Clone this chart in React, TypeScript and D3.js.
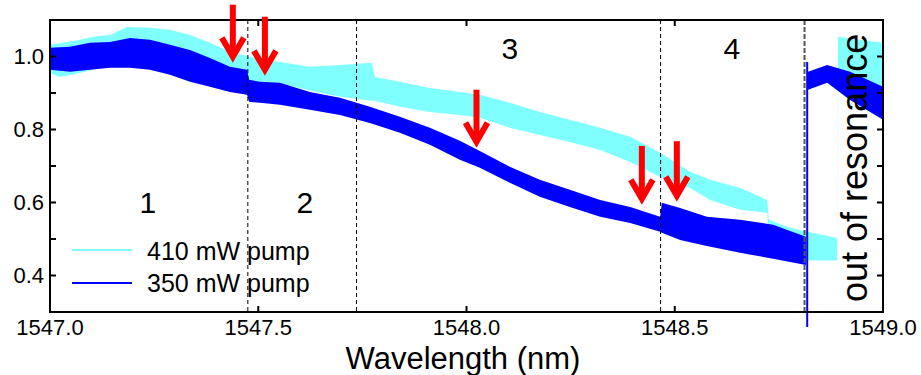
import React from "react";
import * as d3 from "d3";

// ---- data ----
const xTicks = [1547.0, 1547.5, 1548.0, 1548.5, 1549.0];
const yTickLabels = [0.4, 0.6, 0.8, 1.0];
const yTicksAll = [0.4, 0.5, 0.6, 0.7, 0.8, 0.9, 1.0];

// 410 mW pump (cyan) envelope
const cyanWl = [1547.000, 1547.024, 1547.072, 1547.103, 1547.144, 1547.185, 1547.240, 1547.288, 1547.336, 1547.384, 1547.432, 1547.480, 1547.552, 1547.624, 1547.696, 1547.773, 1547.780, 1547.840, 1547.912, 1547.984, 1548.032, 1548.104, 1548.176, 1548.248, 1548.321, 1548.393, 1548.465, 1548.537, 1548.585, 1548.657, 1548.722, 1548.726, 1548.777, 1548.818, 1548.856, 1548.890, 1548.892, 1548.945, 1549.000];
const cyanHi = [1.032, 1.036, 1.046, 1.054, 1.059, 1.081, 1.079, 1.073, 1.059, 1.038, 1.013, 0.999, 0.985, 0.972, 0.977, 0.983, 0.944, 0.931, 0.914, 0.903, 0.895, 0.873, 0.848, 0.827, 0.805, 0.780, 0.736, 0.684, 0.662, 0.640, 0.607, 0.553, 0.531, 0.520, 0.511, 0.503, 1.054, 1.046, 1.038];
const cyanLo = [0.955, 0.944, 0.955, 0.964, 0.977, 0.991, 0.991, 0.977, 0.964, 0.950, 0.936, 0.931, 0.926, 0.907, 0.890, 0.879, 0.879, 0.862, 0.848, 0.840, 0.832, 0.805, 0.785, 0.766, 0.744, 0.711, 0.670, 0.640, 0.607, 0.580, 0.572, 0.506, 0.484, 0.441, 0.441, 0.441, 0.922, 0.903, 0.881];

// 350 mW pump (blue) envelope, in resonance
const blueWl = [1547.000, 1547.048, 1547.096, 1547.144, 1547.192, 1547.240, 1547.288, 1547.336, 1547.384, 1547.432, 1547.473, 1547.478, 1547.504, 1547.552, 1547.624, 1547.696, 1547.768, 1547.840, 1547.912, 1547.984, 1548.032, 1548.104, 1548.176, 1548.248, 1548.321, 1548.393, 1548.465, 1548.469, 1548.513, 1548.577, 1548.657, 1548.736, 1548.815];
const blueHi = [1.024, 1.027, 1.038, 1.040, 1.051, 1.046, 1.032, 1.018, 0.996, 0.972, 0.964, 0.936, 0.931, 0.928, 0.903, 0.887, 0.862, 0.835, 0.805, 0.769, 0.741, 0.698, 0.662, 0.635, 0.607, 0.588, 0.561, 0.599, 0.585, 0.561, 0.553, 0.539, 0.506];
const blueLo = [0.964, 0.958, 0.964, 0.969, 0.969, 0.964, 0.950, 0.931, 0.917, 0.903, 0.895, 0.876, 0.873, 0.868, 0.854, 0.840, 0.818, 0.791, 0.758, 0.717, 0.695, 0.654, 0.616, 0.588, 0.561, 0.544, 0.520, 0.517, 0.497, 0.481, 0.462, 0.446, 0.429];

// 350 mW pump (blue), out of resonance
const blueOutWl = [1548.820, 1548.866, 1548.921, 1549.000];
const blueOutHi = [0.958, 0.977, 0.958, 0.917];
const blueOutLo = [0.909, 0.928, 0.881, 0.827];

// blue drop-out spike at the resonance edge
const blueDropWl = [1548.818];
const blueDropRange = [0.259, 0.985];

// region dividers
const dividerWl = [1547.475, 1547.736, 1548.466];
const resonanceEdgeWl = [1548.814];

// region labels
const regionLabels = ["1", "2", "3", "4"];
const regionWl = [1547.235, 1547.612, 1548.104, 1548.637];
const regionVal = [0.572, 0.572, 0.994, 0.994];

// red arrows: wavelength, top value, tip value
const arrowWl = [1547.439, 1547.516, 1548.024, 1548.421, 1548.505];
const arrowTop = [1.142, 1.109, 0.909, 0.755, 0.768];
const arrowTip = [0.983, 0.947, 0.750, 0.594, 0.602];

const seriesNames = ["410 mW pump", "350 mW pump"];
const seriesColors = ["#80FFFF", "#0000FF"];

const FONT = "'Liberation Sans', Arial, Helvetica, sans-serif";

export default function App() {
  const x = d3.scaleLinear().domain([1547, 1549]).range([50, 883]);
  const y = d3.scaleLinear().domain([0.3, 1.1]).range([312, 20]);

  const band = (wl: number[], hi: number[], lo: number[]) =>
    d3
      .area<number>()
      .x((i) => x(wl[i]))
      .y0((i) => y(lo[i]))
      .y1((i) => y(hi[i]))(d3.range(wl.length)) || "";

  const [x0, x1] = x.range();
  const [yb, yt] = y.range();

  return (
    <svg
      width={921}
      height={375}
      style={{ position: "absolute", left: 0, top: 0, background: "#fff" }}
      fontFamily={FONT}
    >
      <rect x={0} y={0} width={921} height={375} fill="#fff" />
      {/* data */}
      <path d={band(cyanWl, cyanHi, cyanLo)} fill={seriesColors[0]} />
      <path d={band(blueWl, blueHi, blueLo)} fill={seriesColors[1]} />
      <path d={band(blueOutWl, blueOutHi, blueOutLo)} fill={seriesColors[1]} />
      {blueDropWl.map((w, i) => (
        <line
          key={"drop" + i}
          x1={x(w)}
          x2={x(w)}
          y1={y(blueDropRange[0])}
          y2={y(blueDropRange[1])}
          stroke={seriesColors[1]}
          strokeWidth={2}
        />
      ))}

      {/* dividers */}
      {dividerWl.map((w, i) => (
        <line
          key={"div" + i}
          x1={x(w)}
          x2={x(w)}
          y1={yt}
          y2={yb}
          stroke="#000"
          strokeWidth={1}
          strokeDasharray="4,3"
        />
      ))}
      {resonanceEdgeWl.map((w, i) => (
        <line
          key={"edge" + i}
          x1={x(w) - 1}
          x2={x(w) - 1}
          y1={yt}
          y2={yb}
          stroke="#555"
          strokeWidth={2}
          strokeDasharray="5,2"
        />
      ))}

      {/* frame */}
      <rect x={x0} y={yt} width={x1 - x0} height={yb - yt} fill="none" stroke="#000" strokeWidth={2} />
      {/* x ticks top & bottom */}
      {xTicks.map((t, i) => (
        <g key={"xt" + i}>
          <line x1={x(t)} x2={x(t)} y1={yb} y2={yb - 6} stroke="#000" strokeWidth={2} />
          <line x1={x(t)} x2={x(t)} y1={yt} y2={yt + 6} stroke="#000" strokeWidth={2} />
          <text x={x(t)} y={335} fontSize={22} textAnchor="middle" fill="#000">
            {t.toFixed(1)}
          </text>
        </g>
      ))}
      {/* y ticks left & right */}
      {yTicksAll.map((t, i) => (
        <g key={"yt" + i}>
          <line x1={x0} x2={x0 + 6} y1={y(t)} y2={y(t)} stroke="#000" strokeWidth={2} />
          <line x1={x1} x2={x1 - 6} y1={y(t)} y2={y(t)} stroke="#000" strokeWidth={2} />
        </g>
      ))}
      {yTickLabels.map((t, i) => (
        <text key={"yl" + i} x={44} y={y(t) + 7.5} fontSize={22} textAnchor="end" fill="#000">
          {t.toFixed(1)}
        </text>
      ))}
      <text x={463} y={369} fontSize={31} textAnchor="middle" fill="#000">
        Wavelength (nm)
      </text>

      {/* region labels */}
      {regionLabels.map((l, i) => (
        <text key={"rl" + i} x={x(regionWl[i])} y={y(regionVal[i])} fontSize={30} textAnchor="middle" fill="#000">
          {l}
        </text>
      ))}
      <text
        transform={`translate(867,302) rotate(-90)`}
        fontSize={36}
        textAnchor="start"
        fill="#000"
      >
        out of resonance
      </text>

      {/* arrows */}
      {arrowWl.map((w, i) => {
        const ax = x(w);
        const top = y(arrowTop[i]);
        const tip = y(arrowTip[i]) - 6;
        return (
          <g key={"ar" + i} stroke="#FF0000" strokeWidth={6} fill="none" strokeLinejoin="miter" strokeLinecap="butt">
            <line x1={ax} x2={ax} y1={top} y2={tip} />
            <path d={`M${ax - 11},${tip - 19} L${ax},${tip} L${ax + 11},${tip - 19}`} />
          </g>
        );
      })}

      {/* legend */}
      {seriesNames.map((n, i) => (
        <g key={"lg" + i}>
          <line x1={72} x2={132} y1={250 + i * 33} y2={250 + i * 33} stroke={seriesColors[i]} strokeWidth={2} />
          <text x={147} y={260 + i * 32} fontSize={25} fill="#000">
            {n}
          </text>
        </g>
      ))}
    </svg>
  );
}
